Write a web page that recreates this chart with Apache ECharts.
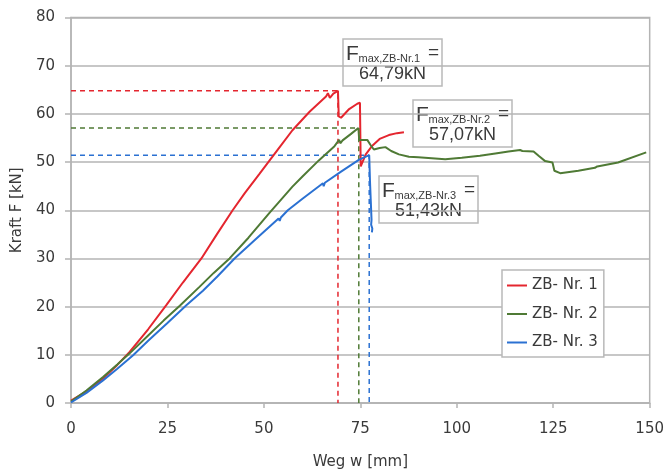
<!DOCTYPE html>
<html>
<head>
<meta charset="utf-8">
<script src="https://cdn.jsdelivr.net/npm/echarts@6/dist/echarts.min.js"></script>
<style>
  html, body { margin: 0; padding: 0; background: #fff; }
  #chart { width: 667px; height: 475px; }
</style>
</head>
<body>
<div id="chart"></div>
<script>
// Messwerte [Weg w in mm, Kraft F in kN]
const nr1 = [[0,0.5],[4,2.4],[8.3,5.1],[12,7.9],[15.2,10.6],[20,15.3],[24.7,20.3],[29,25],[33.8,30],[37.8,35],[41.9,40],[45,43.5],[48.8,47.5],[53.6,52.6],[57.4,56.6],[61.9,60.5],[66.1,63.6],[66.6,64.3],[67.1,63.3],[68.0,64.2],[68.3,63.8],[69.2,64.79],[69.4,59.5],[70,59.2],[72.1,61.0],[74.2,62.1],[74.9,62.3],[75.1,49.1],[76.4,51.6],[78.1,53.4],[80,54.8],[82.4,55.6],[84.5,56],[86.3,56.2]];
const nr2 = [[0,0.3],[4,2.6],[8.3,5.4],[12,8.0],[15.2,10.3],[20,14.0],[24,17.1],[28.2,20.2],[33.3,24.1],[37,27],[41.1,30],[46,34.3],[51.5,39.5],[54,41.8],[57.4,44.9],[60,47],[64.3,50.4],[68.3,53.3],[69.5,54.6],[69.8,53.9],[70.4,54.5],[72.5,55.8],[74.5,57.07],[74.7,54.6],[76.8,54.6],[77.6,53.6],[78.5,52.6],[80,52.9],[81.5,53.1],[83,52.3],[85,51.6],[87.6,51.1],[90,51.0],[93.5,50.8],[97,50.6],[101.3,50.9],[106,51.3],[110,51.8],[113.4,52.2],[116.4,52.5],[117,52.3],[119.9,52.2],[121.2,51.3],[122.9,50.2],[124.8,49.9],[125.3,48.2],[126.8,47.7],[131.5,48.2],[135.8,48.8],[136.4,49.1],[136.9,48.7],[141.8,49.9],[149.1,52.0]];
const nr3 = [[0,0.1],[4,2.1],[8.3,4.7],[12,7.1],[16.1,9.9],[20,12.9],[25,16.6],[29.9,20.3],[34.2,23.3],[38,26.3],[42.4,30],[48,34.1],[53.8,38.3],[54.1,37.8],[54.4,38.5],[56.2,40],[60,42.4],[65.3,45.6],[65.5,45.0],[65.8,45.7],[70,48],[74.7,50.5],[77.3,51.43],[77.5,46],[77.7,42],[77.9,38],[77.8,37],[78.1,36.2],[78.0,35.4]];

const names = ['ZB- Nr. 1', 'ZB- Nr. 2', 'ZB- Nr. 3'];
const fmax = [64.79, 57.07, 51.43];
const wmax = [69.2, 74.6, 77.3];
const fmaxSub = ['max,ZB-Nr.1', 'max,ZB-Nr.2', 'max,ZB-Nr.3'];
const fmaxText = ['64,79kN', '57,07kN', '51,43kN'];
const colors = ['#e4262f', '#4f7a35', '#2b71d2'];

const xTicks = { min: 0, max: 150, interval: 25 };
const yTicks = { min: 0, max: 80, interval: 10 };

const font = 'DejaVu Sans';
const boxFont = 'Liberation Sans';
const txt = '#3a3a3a';
const gridGray = '#b4b4b4';

// Kastenpositionen der Beschriftung (links, oben)
const boxes = [[343, 39], [413, 100], [379, 176]];

function labelBox(i) {
  const [bx, by] = boxes[i];
  return {
    type: 'group', x: bx, y: by, z: 100,
    children: [
      { type: 'rect', shape: { x: 0, y: 0, width: 99, height: 47 },
        style: { fill: '#fff', stroke: '#b9b9b9', lineWidth: 1.5 } },
      { type: 'text', x: 3, y: 15,
        style: { text: 'F', fill: txt, font: '21px "' + boxFont + '"', verticalAlign: 'middle' } },
      { type: 'text', x: 15.5, y: 19.5,
        style: { text: fmaxSub[i], fill: txt, font: '11px "' + boxFont + '"', verticalAlign: 'middle' } },
      { type: 'text', x: 85, y: 14,
        style: { text: '=', fill: txt, font: '19px "' + boxFont + '"', verticalAlign: 'middle' } },
      { type: 'text', x: 49.5, y: 35.5,
        style: { text: fmaxText[i], fill: txt, font: '18px "' + boxFont + '"', align: 'center', verticalAlign: 'middle' } }
    ]
  };
}

const lineSeries = [nr1, nr2, nr3].map((d, i) => ({
  name: names[i], type: 'line', data: d, symbol: 'none', z: 5,
  lineStyle: { color: colors[i], width: 2 }, itemStyle: { color: colors[i] },
  animation: false
}));

const dashSeries = fmax.map((f, i) => ({
  name: 'fmax' + i, type: 'line', symbol: 'none', z: 3,
  data: [[0, f], [wmax[i], f], [wmax[i], 0]],
  lineStyle: { color: colors[i], width: 1.5, type: [5, 4] },
  animation: false, silent: true
}));

const chart = echarts.init(document.getElementById('chart'));
chart.setOption({
  animation: false,
  textStyle: { fontFamily: font },
  grid: { left: 71, right: 15, top: 17.5, bottom: 70, show: true, borderColor: gridGray, borderWidth: 1.5 },
  xAxis: {
    type: 'value', min: xTicks.min, max: xTicks.max, interval: xTicks.interval,
    name: 'Weg w [mm]', nameLocation: 'middle', nameGap: 52,
    nameTextStyle: { color: txt, fontSize: 15, fontFamily: font },
    axisLine: { lineStyle: { color: gridGray, width: 1.5 } },
    axisTick: { show: true, length: 5, lineStyle: { color: gridGray, width: 1.5 } },
    axisLabel: { color: txt, fontSize: 15, margin: 19, fontFamily: font },
    splitLine: { show: false }
  },
  yAxis: {
    type: 'value', min: yTicks.min, max: yTicks.max, interval: yTicks.interval,
    name: 'Kraft F [kN]', nameLocation: 'middle', nameGap: 43,
    nameTextStyle: { color: txt, fontSize: 15, fontFamily: font },
    axisLine: { show: true, lineStyle: { color: gridGray, width: 1.5 } },
    axisTick: { show: true, length: 6, lineStyle: { color: gridGray, width: 1.5 } },
    axisLabel: { color: txt, fontSize: 15, margin: 16, fontFamily: font },
    splitLine: { show: true, lineStyle: { color: gridGray, width: 1.5 } }
  },
  legend: {
    data: names, orient: 'vertical', left: 502, top: 270,
    icon: 'rect', itemWidth: 20, itemHeight: 2, itemGap: 13.5,
    padding: [8, 6, 7, 5],
    backgroundColor: '#fff', borderColor: '#b9b9b9', borderWidth: 1.5,
    textStyle: { color: txt, fontSize: 15, lineHeight: 14, fontFamily: font }
  },
  series: dashSeries.concat(lineSeries),
  graphic: boxes.map((b, i) => labelBox(i))
});
</script>
</body>
</html>
